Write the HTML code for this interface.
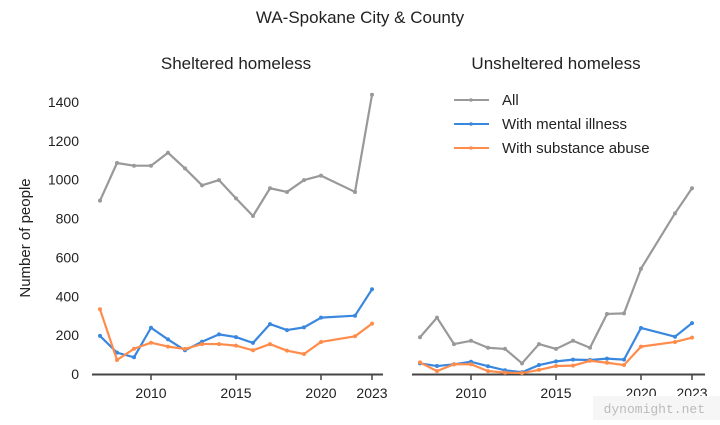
<!DOCTYPE html>
<html><head><meta charset="utf-8"><style>
body{margin:0;background:#fff;width:720px;height:420px;overflow:hidden;font-family:"Liberation Sans",sans-serif}
</style></head><body>
<svg id="chart" width="720" height="420" xmlns="http://www.w3.org/2000/svg">
<text x="360" y="23" text-anchor="middle" font-size="17" fill="#222">WA-Spokane City &amp; County</text>
<text x="236" y="69" text-anchor="middle" font-size="17" fill="#222">Sheltered homeless</text>
<text x="556" y="69" text-anchor="middle" font-size="17" fill="#222">Unsheltered homeless</text>
<text transform="translate(30,238) rotate(-90)" text-anchor="middle" font-size="15" fill="#222">Number of people</text>
<g id="plots"></g>
<g>
<line x1="454" y1="100" x2="489" y2="100" stroke="#999" stroke-width="2"/><circle cx="471" cy="100" r="1.8" fill="#999"/>
<text x="502" y="105" font-size="15" fill="#222">All</text>
<line x1="454" y1="124" x2="489" y2="124" stroke="#3a87e0" stroke-width="2"/><circle cx="471" cy="124" r="1.8" fill="#3a87e0"/>
<text x="502" y="129" font-size="15" fill="#222">With mental illness</text>
<line x1="454" y1="148" x2="489" y2="148" stroke="#ff8c4a" stroke-width="2"/><circle cx="471" cy="148" r="1.8" fill="#ff8c4a"/>
<text x="502" y="153" font-size="15" fill="#222">With substance abuse</text>
</g>
<rect x="593" y="396" width="127" height="24" fill="#f6f6f6"/>
<text x="705" y="413" text-anchor="end" font-family="Liberation Mono, monospace" font-size="13" fill="#bbb">dynomight.net</text>
</svg>
<script>
const years = [2007,2008,2009,2010,2011,2012,2013,2014,2015,2016,2017,2018,2019,2020,2022,2023];
const shelteredAll = [892,1086,1072,1072,1139,1058,971,998,904,813,956,937,998,1021,937,1437];
const shelteredMental = [196,110,86,238,178,122,166,204,190,160,257,226,240,290,300,436];
const shelteredSubstance = [333,72,130,161,141,129,154,154,146,122,154,120,103,165,194,259];
const unshelteredAll = [189,290,154,171,135,129,55,154,129,171,135,309,312,542,827,956];
const unshelteredMental = [55,41,50,63,40,19,9,46,65,74,72,79,74,237,192,262];
const unshelteredSubstance = [60,15,50,50,15,7,5,21,41,43,68,58,46,141,165,187];
const yTicks = [0,200,400,600,800,1000,1200,1400];
const xTicks = [2010,2015,2020,2023];

const NS='http://www.w3.org/2000/svg';
const g=document.getElementById('plots');
function yScale(v){return 374-v*0.1943;}
function mk(tag,attrs){const e=document.createElementNS(NS,tag);for(const k in attrs)e.setAttribute(k,attrs[k]);g.appendChild(e);return e;}
const panels=[
 {name:'sheltered',x0:100,ax1:92,ax2:383,series:[shelteredAll,shelteredMental,shelteredSubstance]},
 {name:'unsheltered',x0:420,ax1:412,ax2:705,series:[unshelteredAll,unshelteredMental,unshelteredSubstance]}
];
const colors=['#999999','#3a87e0','#ff8c4a'];
const snames=['all','mental-illness','substance-abuse'];
panels.forEach(p=>{
  const xs=y=>p.x0+(y-2007)*17;
  const ax=mk('line',{x1:p.ax1,x2:p.ax2,y1:374.5,y2:374.5,stroke:'#444','stroke-width':2});
  
  
  xTicks.forEach(t=>{
    const tk=mk('line',{x1:xs(t),x2:xs(t),y1:375,y2:380,stroke:'#444','stroke-width':1.5});
    
    
    const tl=mk('text',{x:xs(t),y:398,'text-anchor':'middle','font-size':14,fill:'#222'});
    tl.textContent=t;
    
    
  });
  p.series.forEach((s,i)=>{
    const pts=s.map((v,j)=>xs(years[j])+','+yScale(v)).join(' ');
    const pl=mk('polyline',{points:pts,fill:'none',stroke:colors[i],'stroke-width':2.2,'stroke-linejoin':'round'});
    
    
    s.forEach((v,j)=>{
      const c=mk('circle',{cx:xs(years[j]),cy:yScale(v),r:2,fill:colors[i]});
      
      
    });
  });
});
yTicks.forEach(t=>{
  const tl=mk('text',{x:79,y:yScale(t)+5,'text-anchor':'end','font-size':14,fill:'#222'});
  tl.textContent=t;
  
  
});
</script>
</body></html>
